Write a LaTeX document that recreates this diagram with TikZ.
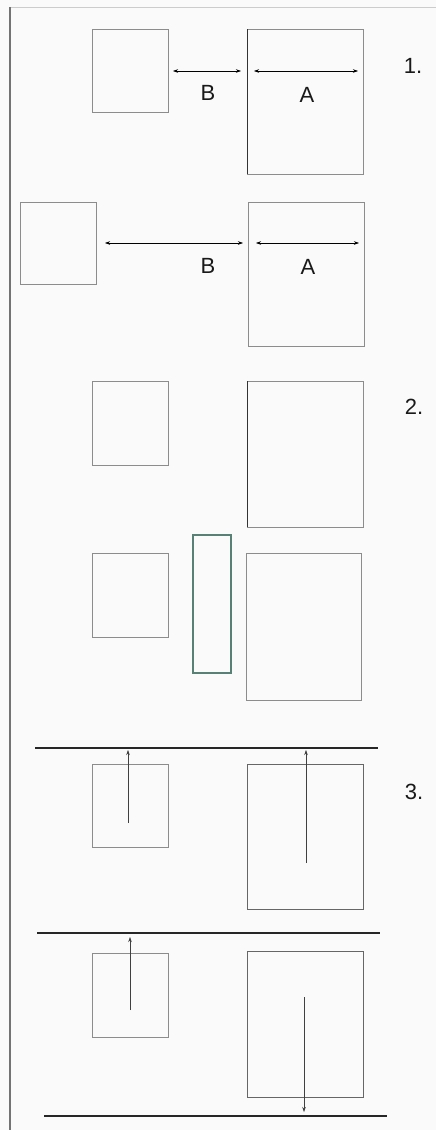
\documentclass[tikz,border=0pt]{standalone}
\usepackage{fontspec}
\setmainfont{Liberation Sans}
\usetikzlibrary{arrows.meta}
\definecolor{boxgreen}{RGB}{88,128,116}
\tikzset{
  box/.style={draw=black!45, line width=0.8pt, inner sep=0pt, outer sep=0pt, fill=none},
  greenbox/.style={draw=boxgreen, line width=2pt, inner sep=0pt, outer sep=0pt},
  dim/.style={line width=0.5pt, {Stealth[length=5pt,width=3.5pt]}-{Stealth[length=5pt,width=3.5pt]}},
  upar/.style={line width=0.5pt, draw=black!75, -{Stealth[length=5pt,width=3.5pt]}},
  wall/.style={line width=1.8pt, draw=black!85},
  lbl/.style={font=\fontsize{22}{24}\selectfont, inner sep=0pt, text=black!90},
}
\begin{document}
\begin{tikzpicture}[x=1pt,y=-1pt]
\useasboundingbox (0,0) rectangle (436,1130);
\fill[black!2] (0,0) rectangle (436,1130);
\draw[black!20, line width=0.8pt] (10,7) -- (436,7);
\draw[black!55, line width=1.2pt] (10,7) -- (10,1130);

% ---- 1.
\node[box, minimum width=76pt, minimum height=83pt] (s1) at (130,70.5) {};
\node[box, minimum width=116pt, minimum height=145pt] (b1) at (305,101.5) {};
\draw[black!80, line width=0.9pt] (b1.north west) -- (b1.south west);
\coordinate (b1l) at (173,71); \coordinate (b1r) at (241,71);
\coordinate (a1l) at (254,71); \coordinate (a1r) at (358,71);
\draw[dim] (b1l) -- (b1r);
\draw[dim] (a1l) -- (a1r);
\node[lbl] (lB1) at (208,93) {B};
\node[lbl] (lA1) at (307,95) {A};
\node[lbl] (n1) at (413,66) {1.};

% ---- 1b
\node[box, minimum width=76pt, minimum height=82pt] (s1b) at (58,243) {};
\node[box, minimum width=116pt, minimum height=144pt] (b1b) at (306,274) {};
\coordinate (b2l) at (105,243); \coordinate (b2r) at (243,243);
\coordinate (a2l) at (256,243); \coordinate (a2r) at (359,243);
\draw[dim] (b2l) -- (b2r);
\draw[dim] (a2l) -- (a2r);
\node[lbl] (lB2) at (208,266) {B};
\node[lbl] (lA2) at (308,267) {A};

% ---- 2.
\node[box, minimum width=76pt, minimum height=84pt] (s2) at (130,423) {};
\node[box, minimum width=116pt, minimum height=146pt] (b2) at (305,454) {};
\draw[black!80, line width=0.9pt] (b2.north west) -- (b2.south west);
\node[lbl] (n2) at (414,407) {2.};

\node[box, minimum width=76pt, minimum height=84pt] (s2b) at (130,595) {};
\node[greenbox, minimum width=38pt, minimum height=138pt] (g2) at (211.5,603.5) {};
\node[box, minimum width=115pt, minimum height=147pt] (b2b) at (303.5,626.5) {};

% ---- 3.
\coordinate (w1l) at (35,748); \coordinate (w1r) at (378,748);
\draw[wall] (w1l) -- (w1r);
\node[box, minimum width=76pt, minimum height=83pt] (s3) at (130,805.5) {};
\node[box, draw=black!60, minimum width=116pt, minimum height=145pt] (b3) at (305,836.5) {};
\coordinate (p1) at (128,823); \coordinate (q1) at (128,750);
\coordinate (p2) at (306,863); \coordinate (q2) at (306,750);
\draw[upar] (p1) -- (q1);
\draw[upar] (p2) -- (q2);
\node[lbl] (n3) at (414,792) {3.};

\coordinate (w2l) at (37,933); \coordinate (w2r) at (380,933);
\draw[wall] (w2l) -- (w2r);
\node[box, minimum width=76pt, minimum height=84pt] (s3b) at (130,995) {};
\node[box, draw=black!60, minimum width=116pt, minimum height=146pt] (b3b) at (305,1024) {};
\coordinate (p3) at (130,1010); \coordinate (q3) at (130,937);
\coordinate (p4) at (304,997); \coordinate (q4) at (304,1112);
\draw[upar] (p3) -- (q3);
\draw[upar] (p4) -- (q4);
\coordinate (w3l) at (44,1116); \coordinate (w3r) at (387,1116);
\draw[wall] (w3l) -- (w3r);
\end{tikzpicture}
\end{document}
